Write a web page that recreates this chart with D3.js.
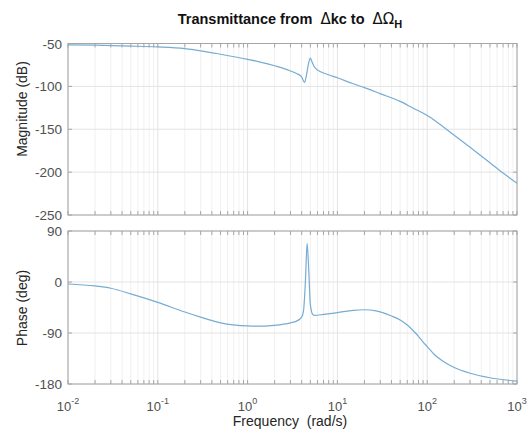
<!DOCTYPE html>
<html>
<head>
<meta charset="utf-8">
<script src="https://cdn.jsdelivr.net/npm/d3@7"></script>
<style>
  body { margin: 0; background: #fff; }
  text { font-family: "Liberation Sans", Arial, sans-serif; }
</style>
</head>
<body>
<div id="chart"></div>
<script>
// values
const magFreq = [0.01, 0.02, 0.05, 0.1, 0.2, 0.3, 0.5, 1, 1.5, 2, 2.5, 3, 3.5, 4, 4.3, 4.5, 4.8, 5.0, 5.2, 5.6, 6.5, 8, 10, 15, 20, 30, 50, 70, 100, 130, 200, 300, 500, 700, 1000];
const magDb = [-51.5, -52, -53, -54, -56, -58.5, -62.5, -68.5, -72.5, -76, -79, -82, -85, -89, -95.5, -88, -72, -67, -71, -78, -83, -86.5, -90, -97, -101.5, -108.5, -117.5, -125.5, -134, -142, -157, -171, -189, -201, -213];

const phaseFreq = [0.01, 0.02, 0.03, 0.05, 0.1, 0.2, 0.3, 0.5, 1, 1.5, 2, 3, 3.5, 4, 4.2, 4.4, 4.6, 4.8, 5.0, 5.3, 5.6, 7, 10, 15, 20, 27, 40, 50, 60, 70, 80, 90, 100, 120, 150, 200, 300, 500, 1000];
const phaseDeg = [-3.5, -7, -11, -21, -36, -53, -62, -72, -77.5, -78, -76.5, -72, -69, -62, -50, 0, 68, 20, -40, -57, -59, -57, -54, -50, -49, -51, -60, -67, -76, -86, -96, -106, -114, -128, -140, -151, -161, -169, -175];

const magTicks = [-50, -100, -150, -200, -250];
const phaseTicks = [90, 0, -90, -180];
const freqExps = [-2, -1, 0, 1, 2, 3];

const width = 530, height = 434;
const left = 68, right = 517;

const svg = d3.select("#chart").append("svg")
  .attr("width", width)
  .attr("height", height);

const x = d3.scaleLog().domain([0.01, 1000]).range([left, right]);

const minorFreqs = [];
for (let e = -2; e < 3; e++) {
  for (let k = 2; k <= 9; k++) minorFreqs.push(k * Math.pow(10, e));
}

function drawPanel(top, bottom, domain, ticks, freq, vals, showX) {
  const y = d3.scaleLinear().domain(domain).range([bottom, top]);
  const g = svg.append("g");

  // minor x grid
  g.selectAll(".mg").data(minorFreqs).enter().append("line")
    .attr("x1", d => x(d)).attr("x2", d => x(d))
    .attr("y1", top).attr("y2", bottom)
    .attr("stroke", "#f1f1f1").attr("stroke-width", 1);
  // major grid
  g.selectAll(".xg").data(freqExps).enter().append("line")
    .attr("x1", d => x(Math.pow(10, d))).attr("x2", d => x(Math.pow(10, d)))
    .attr("y1", top).attr("y2", bottom)
    .attr("stroke", "#e3e3e3").attr("stroke-width", 1);
  g.selectAll(".yg").data(ticks).enter().append("line")
    .attr("x1", left).attr("x2", right)
    .attr("y1", d => y(d)).attr("y2", d => y(d))
    .attr("stroke", "#e3e3e3").attr("stroke-width", 1);

  // data line
  const line = d3.line()
    .x((d, i) => x(freq[i]))
    .y(d => y(d))
    .curve(d3.curveMonotoneX);
  g.append("path")
    .datum(vals)
    .attr("d", line)
    .attr("fill", "none")
    .attr("stroke", "#76acd3")
    .attr("stroke-width", 1.2);

  // box
  g.append("rect")
    .attr("x", left).attr("y", top)
    .attr("width", right - left).attr("height", bottom - top)
    .attr("fill", "none").attr("stroke", "#a6a6a6").attr("stroke-width", 1);

  // ticks inside
  const tl = 4;
  const xt = freqExps.map(e => Math.pow(10, e)).concat(minorFreqs);
  xt.forEach(f => {
    g.append("line").attr("x1", x(f)).attr("x2", x(f))
      .attr("y1", bottom).attr("y2", bottom - tl).attr("stroke", "#a6a6a6");
    g.append("line").attr("x1", x(f)).attr("x2", x(f))
      .attr("y1", top).attr("y2", top + tl).attr("stroke", "#a6a6a6");
  });
  ticks.forEach(t => {
    g.append("line").attr("x1", left).attr("x2", left + tl)
      .attr("y1", y(t)).attr("y2", y(t)).attr("stroke", "#a6a6a6");
    g.append("line").attr("x1", right).attr("x2", right - tl)
      .attr("y1", y(t)).attr("y2", y(t)).attr("stroke", "#a6a6a6");
  });

  // y tick labels
  g.selectAll(".yl").data(ticks).enter().append("text")
    .attr("x", left - 6)
    .attr("y", d => y(d) + 5)
    .attr("text-anchor", "end")
    .attr("font-size", 13.5)
    .attr("fill", "#505050")
    .text(d => d);

  if (showX) {
    freqExps.forEach(e => {
      const t = g.append("text")
        .attr("x", x(Math.pow(10, e)))
        .attr("y", bottom + 26.5)
        .attr("text-anchor", "middle")
        .attr("font-size", 13)
        .attr("fill", "#505050");
      t.append("tspan").text("10");
      t.append("tspan").attr("font-size", 9).attr("dy", -7).text(e);
    });
  }
  return y;
}

drawPanel(43.5, 215, [-250, -50], magTicks, magFreq, magDb, false);
drawPanel(231, 384, [-180, 90], phaseTicks, phaseFreq, phaseDeg, true);

// axis labels
svg.append("text")
  .attr("transform", "translate(27,109) rotate(-90)")
  .attr("text-anchor", "middle")
  .attr("font-size", 14)
  .attr("fill", "#262626")
  .text("Magnitude (dB)");
svg.append("text")
  .attr("transform", "translate(27,308) rotate(-90)")
  .attr("text-anchor", "middle")
  .attr("font-size", 14)
  .attr("fill", "#262626")
  .text("Phase (deg)");
svg.append("text")
  .attr("x", 290).attr("y", 426)
  .attr("text-anchor", "middle")
  .attr("font-size", 14)
  .attr("fill", "#262626")
  .style("white-space", "pre")
  .text("Frequency  (rad/s)");

// title
const title = svg.append("text")
  .attr("x", 290).attr("y", 24)
  .attr("text-anchor", "middle")
  .attr("font-size", 14.5)
  .attr("font-weight", "bold")
  .attr("fill", "#111")
  .style("white-space", "pre");
title.append("tspan").text("Transmittance from  ");
title.append("tspan").attr("font-weight", "normal").attr("font-family", "DejaVu Sans").attr("font-size", 15).text("Δ");
title.append("tspan").text("kc to  ");
title.append("tspan").attr("font-weight", "normal").attr("font-family", "DejaVu Sans").attr("font-size", 15).text("ΔΩ");
title.append("tspan").attr("font-size", 11).attr("dy", 4).text("H");
</script>
</body>
</html>
